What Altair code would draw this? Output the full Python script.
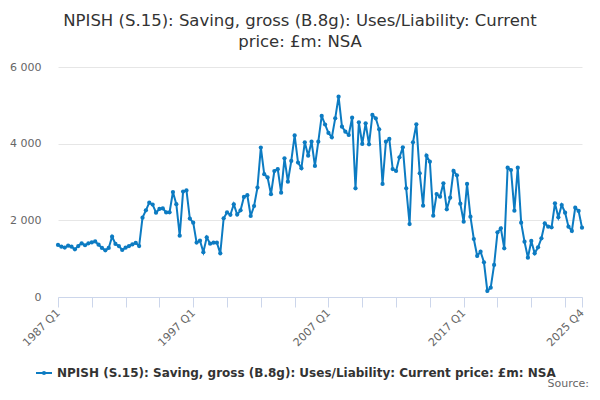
import altair as alt
import pandas as pd

# ---- data ----
years = list(range(1987, 2026))
quarters = [f"{y} Q{q}" for y in years for q in (1, 2, 3, 4)]
values = [
    1357, 1313, 1290, 1339, 1313, 1245, 1330, 1400, 1350, 1400,
    1425, 1450, 1365, 1280, 1217, 1280, 1574, 1383, 1330, 1226,
    1287, 1330, 1370, 1410, 1330, 2070, 2260, 2460, 2410, 2200,
    2296, 2310, 2205, 2210, 2739, 2420, 1600, 2750, 2780, 2045,
    1939, 1420, 1470, 1170, 1557, 1390, 1417, 1417, 1139, 2052,
    2205, 2145, 2418, 2150, 2260, 2610, 2655, 2113, 2374, 2855,
    3900, 3205, 3118, 2683, 3287, 3335, 2722, 3618, 3009, 3548,
    4215, 3508, 3360, 4035, 3687, 4052, 3418, 4052, 4725, 4500,
    4280, 4166, 4661, 5226, 4444, 4313, 4226, 4678, 2835, 4557,
    3992, 4531, 3983, 4748, 4661, 4374, 2948, 4052, 4122, 3339,
    3287, 3644, 3905, 2835, 1904, 4035, 4505, 3227, 2382, 3687,
    3530, 2121, 2687, 2617, 2966, 2288, 2590, 3290, 3175, 2435,
    1965, 2948, 2096, 1513, 1070, 1183, 905, 157, 244, 835,
    1688, 1792, 1270, 3374, 3313, 2252, 3374, 1939, 1443, 1026,
    1461, 1139, 1296, 1531, 1922, 1835, 1818, 2443, 2079, 2400,
    2200, 1835, 1722, 2331, 2244, 1809,
]
tick_quarters = quarters[::10] + [quarters[-1]]
label_quarters = ["1987 Q1", "1997 Q1", "2007 Q1", "2017 Q1", "2025 Q4"]
y_ticks = [0, 2000, 4000, 6000]
series_name = "NPISH (S.15): Saving, gross (B.8g): Uses/Liability: Current price: £m: NSA"
title_lines = ["NPISH (S.15): Saving, gross (B.8g): Uses/Liability: Current", "price: £m: NSA"]
source_text = "Source:"

df = pd.DataFrame({"quarter": quarters, "value": values})

FONT = "DejaVu Sans"
BLUE = "#0c7bc2"
W, H = 524, 230

label_test = " || ".join([f"datum.value == '{q}'" for q in label_quarters])

x_enc = alt.X(
    "quarter:O",
    sort=None,
    scale=alt.Scale(type="point", padding=0),
    axis=alt.Axis(
        title=None,
        values=tick_quarters,
        labelExpr=f"({label_test}) ? datum.value : ''",
        labelAngle=-45,
        labelAlign="right",
        labelBaseline="middle",
        labelFont=FONT,
        labelFontSize=11,
        labelColor="#666666",
        labelPadding=4,
        labelOverlap=False,
        tickColor="#ccd6eb",
        tickSize=10,
        domainColor="#ccd6eb",
        grid=False,
    ),
)
y_enc = alt.Y(
    "value:Q",
    scale=alt.Scale(domain=[0, 6000], nice=False),
    axis=alt.Axis(
        title=None,
        values=y_ticks,
        labelExpr="replace(format(datum.value, ','), ',', ' ')",
        labelFont=FONT,
        labelFontSize=11,
        labelColor="#666666",
        labelPadding=17,
        ticks=False,
        domain=False,
        gridColor="#e6e6e6",
    ),
)

line = alt.Chart(df).mark_line(color=BLUE, strokeWidth=2).encode(x=x_enc, y=y_enc)
pts = alt.Chart(df).mark_circle(color=BLUE, size=18, opacity=1).encode(
    x=alt.X("quarter:O", sort=None), y="value:Q"
)

one = pd.DataFrame({"k": [0]})
title1 = alt.Chart(one).mark_text(
    text=title_lines[0], font=FONT, fontSize=16.5, color="#333333", align="center", baseline="alphabetic"
).encode(x=alt.value(242), y=alt.value(-41))
title2 = alt.Chart(one).mark_text(
    text=title_lines[1], font=FONT, fontSize=16.5, color="#333333", align="center", baseline="alphabetic"
).encode(x=alt.value(242), y=alt.value(-20))

leg_rule = alt.Chart(one).mark_rule(color=BLUE, strokeWidth=2).encode(
    x=alt.value(-22), x2=alt.value(-6), y=alt.value(306)
)
leg_pt = alt.Chart(one).mark_circle(color=BLUE, size=18, opacity=1).encode(
    x=alt.value(-14), y=alt.value(306)
)
leg_text = alt.Chart(one).mark_text(
    text=series_name, font=FONT, fontSize=12, fontWeight="bold", color="#333333", align="left", baseline="middle"
).encode(x=alt.value(-1), y=alt.value(306))
src = alt.Chart(one).mark_text(
    text=source_text, font=FONT, fontSize=11, color="#666666", align="right", baseline="alphabetic"
).encode(x=alt.value(531), y=alt.value(320))

chart = (
    alt.layer(line, pts, title1, title2, leg_rule, leg_pt, leg_text, src)
    .properties(
        width=W,
        height=H,
        autosize=alt.AutoSizeParams(type="none"),
        padding={"left": 50, "top": 59, "right": 10, "bottom": 95},
    )
    .configure_view(stroke=None)
)

chart.save("out.html", embed_options={"renderer": "svg", "actions": False})
